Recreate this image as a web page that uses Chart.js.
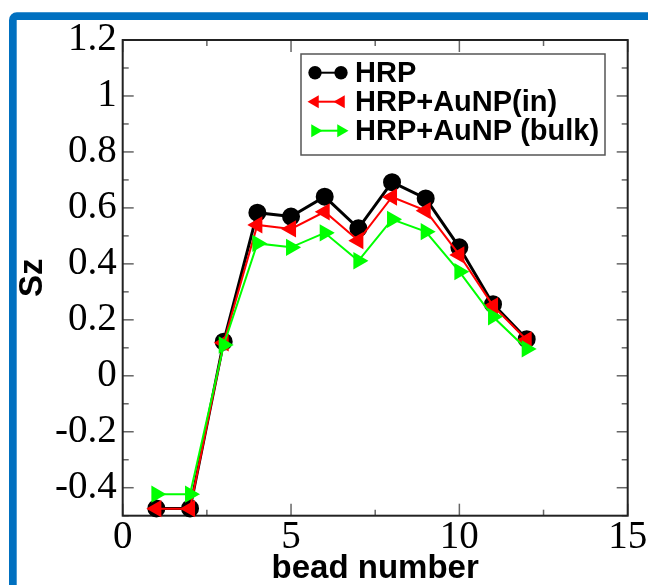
<!DOCTYPE html>
<html>
<head>
<meta charset="utf-8">
<script src="https://cdn.jsdelivr.net/npm/chart.js@4.4.0/dist/chart.umd.min.js"></script>
<style>
  html, body { margin:0; padding:0; background:#fff; }
  canvas { display:block; }
</style>
</head>
<body>
<canvas id="myChart" width="648" height="585"></canvas>
<script>
// data
const beads = [1,2,3,4,5,6,7,8,9,10,11,12];
const hrp = [-0.474,-0.474,0.122,0.583,0.569,0.640,0.527,0.692,0.634,0.459,0.256,0.131];
const hrpIn = [-0.475,-0.475,0.118,0.539,0.525,0.586,0.483,0.639,0.590,0.432,0.250,0.128];
const hrpBulk = [-0.423,-0.423,0.110,0.473,0.459,0.511,0.411,0.559,0.515,0.372,0.211,0.096];
const seriesNames = ['HRP','HRP+AuNP(in)','HRP+AuNP (bulk)'];
const xTicks = [0,5,10,15];
const yTicks = [-0.4,-0.2,0,0.2,0.4,0.6,0.8,1,1.2];

const toPoints = (vals) => beads.map((b,i) => ({x:b, y:vals[i]}));

//blue frame behind everything
const blueFrame = {
  id:'blueFrame',
  beforeDraw(chart){
    const ctx = chart.ctx;
    ctx.save();
    ctx.fillStyle = '#fff';
    ctx.fillRect(0,0,chart.width,chart.height);
    ctx.strokeStyle = '#0070C0';
    ctx.lineWidth = 7.7;
    ctx.beginPath();
    ctx.roundRect(12.85,16.15,800,800,4);
    ctx.stroke();
    ctx.restore();
  }
};

//box + inward ticks on all four sides
const axisBox = {
  id:'axisBox',
  beforeDatasetsDraw(chart){
    const {ctx, chartArea:a, scales:{x,y}} = chart;
    ctx.save();
    ctx.strokeStyle = '#666';
    ctx.lineWidth = 1.5;
    const seg = (x1,y1,x2,y2) => { ctx.beginPath(); ctx.moveTo(x1,y1); ctx.lineTo(x2,y2); ctx.stroke(); };
    for(let v = x.min; v <= x.max; v += 2.5){
      const px = x.getPixelForValue(v);
      const len = (v % 5 === 0) ? 12 : 6;
      seg(px,a.bottom,px,a.bottom-len);
      seg(px,a.top,px,a.top+len);
    }
    for(let i = Math.round(y.min*10); i <= Math.round(y.max*10); i++){
      const py = y.getPixelForValue(i/10);
      const len = (i % 2 === 0) ? 11 : 6;
      seg(a.left,py,a.left+len,py);
      seg(a.right,py,a.right-len,py);
    }
    ctx.strokeStyle = '#222';
    ctx.lineWidth = 2;
    ctx.strokeRect(a.left,a.top,a.right-a.left,a.bottom-a.top);
    ctx.restore();
  }
};

function marker(ctx, style, rot, r, cx, cy){
  ctx.beginPath();
  if(style === 'circle'){
    ctx.arc(cx,cy,r,0,Math.PI*2);
  }else{
    let rad = rot*Math.PI/180;
    for(let k=0;k<3;k++){
      const px = cx + Math.sin(rad)*r, py = cy - Math.cos(rad)*r;
      if(k===0) ctx.moveTo(px,py); else ctx.lineTo(px,py);
      rad += 2*Math.PI/3;
    }
    ctx.closePath();
  }
  ctx.fill();
}

//legend drawn like the original (line with a marker at each end)
const boxLegend = {
  id:'boxLegend',
  afterDraw(chart){
    const ctx = chart.ctx;
    ctx.save();
    ctx.fillStyle = '#fff';
    ctx.fillRect(301,54,304,101);
    ctx.strokeStyle = '#555';
    ctx.lineWidth = 1.5;
    ctx.strokeRect(301,54,304,101);
    chart.data.datasets.forEach((ds,i)=>{
      const yy = 72.7 + i*29;
      ctx.strokeStyle = ds.borderColor;
      ctx.lineWidth = 2;
      ctx.beginPath(); ctx.moveTo(315,yy); ctx.lineTo(341,yy); ctx.stroke();
      ctx.fillStyle = ds.pointBackgroundColor;
      marker(ctx, ds.pointStyle, ds.rotation||0, ds.pointStyle==='circle'?6.7:7.5, 315, yy);
      marker(ctx, ds.pointStyle, ds.rotation||0, ds.pointStyle==='circle'?6.7:7.5, 341, yy);
      ctx.fillStyle = '#000';
      ctx.font = 'bold 29px "Liberation Sans", Arial, sans-serif';
      ctx.textBaseline = 'middle';
      ctx.fillText(ds.label, 355, yy+1);
    });
    ctx.restore();
  }
};

const ctx = document.getElementById('myChart');
const myChart = new Chart(ctx,{
  type:'line',
  data:{
    datasets:[
      {
        label: seriesNames[0],
        data: toPoints(hrp),
        borderColor:'#000',
        backgroundColor:'#000',
        pointBackgroundColor:'#000',
        pointBorderColor:'#000',
        pointStyle:'circle',
        pointRadius:7.5,
        borderWidth:3,
        order:3,
        clip:false
      },
      {
        label: seriesNames[1],
        data: toPoints(hrpIn),
        borderColor:'#ff0000',
        backgroundColor:'#ff0000',
        pointBackgroundColor:'#ff0000',
        pointBorderColor:'#ff0000',
        pointStyle:'triangle',
        rotation:-90,
        pointRotation:-90,
        pointRadius:8,
        borderWidth:2,
        order:2,
        clip:false
      },
      {
        label: seriesNames[2],
        data: toPoints(hrpBulk),
        borderColor:'#00ff00',
        backgroundColor:'#00ff00',
        pointBackgroundColor:'#00ff00',
        pointBorderColor:'#00ff00',
        pointStyle:'triangle',
        rotation:90,
        pointRotation:90,
        pointRadius:8,
        borderWidth:2,
        order:1,
        clip:false
      }
    ]
  },
  options:{
    responsive:false,
    animation:false,
    devicePixelRatio:1,
    layout:{ padding:{ left:0, top:40, right:20.3, bottom:0 } },
    plugins:{ legend:{display:false}, tooltip:{enabled:false} },
    elements:{ line:{ tension:0 }, point:{ borderWidth:1 } },
    scales:{
      x:{
        type:'linear',
        min:0, max:15,
        grid:{ display:false, drawTicks:false },
        border:{ display:false },
        ticks:{
          color:'#000',
          padding:3,
          font:{ family:'"Liberation Serif", "Times New Roman", serif', size:39, lineHeight:1 },
          maxRotation:0,
          callback:(v)=>String(v)
        },
        afterBuildTicks:(s)=>{ s.ticks = xTicks.map(v=>({value:v})); },
        afterFit:(s)=>{ s.height = 69.3; s.paddingLeft = 0; s.paddingRight = 0; },
        title:{
          display:true,
          text:'bead number',
          color:'#000',
          font:{ family:'"Liberation Sans", Arial, sans-serif', size:33, weight:'bold', lineHeight:1 },
          padding:{ top:0, bottom:0 }
        }
      },
      y:{
        type:'linear',
        min:-0.5, max:1.2,
        grid:{ display:false, drawTicks:false },
        border:{ display:false },
        ticks:{
          color:'#000',
          padding:6,
          font:{ family:'"Liberation Serif", "Times New Roman", serif', size:39, lineHeight:1 },
          callback:(v)=>String(Math.round(v*10)/10)
        },
        afterBuildTicks:(s)=>{ s.ticks = yTicks.map(v=>({value:v})); },
        afterFit:(s)=>{ s.width = 122.7; s.paddingTop = 0; s.paddingBottom = 0; },
        title:{
          display:true,
          text:'Sz',
          color:'#000',
          font:{ family:'"Liberation Sans", Arial, sans-serif', size:33, weight:'bold', lineHeight:1 },
          padding:{ top:16, bottom:0 }
        }
      }
    }
  },
  plugins:[blueFrame, axisBox, boxLegend]
});
</script>
</body>
</html>
